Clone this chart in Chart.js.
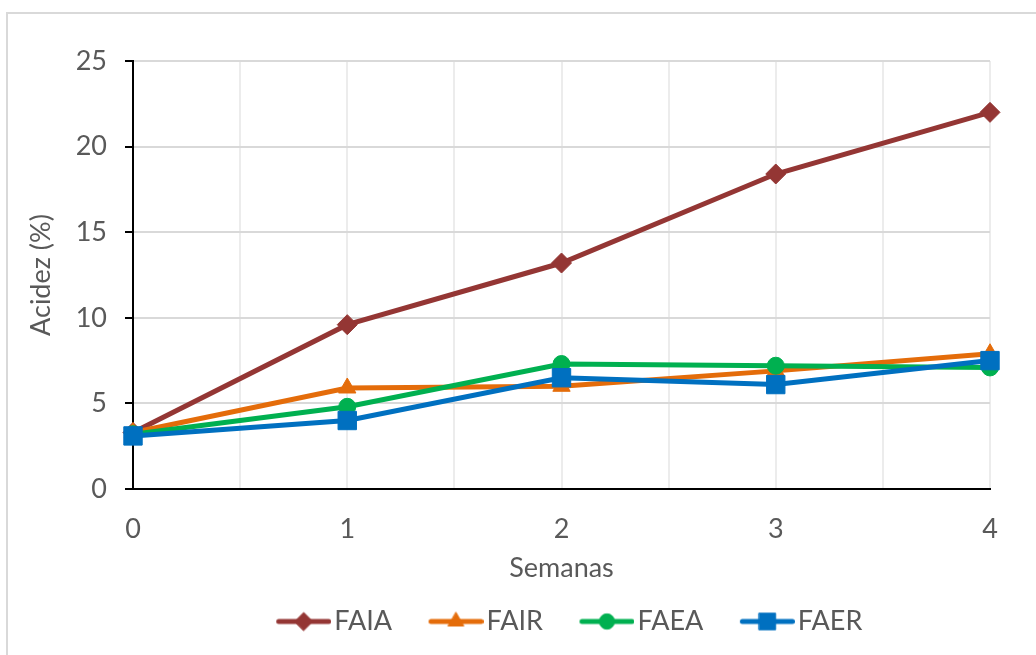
<!DOCTYPE html>
<html>
<head>
<meta charset="utf-8">
<script src="https://cdn.jsdelivr.net/npm/chart.js@4.4.0/dist/chart.umd.min.js"></script>
<style>
  html, body { margin: 0; padding: 0; background: #fff; overflow: hidden; }
  #marco { position: absolute; left: 6px; top: 12px; width: 1040px; height: 660px; border: 2px solid #d9d9d9; box-sizing: border-box; }
  #grafico { position: absolute; left: 0; top: 0; }
</style>
</head>
<body>
<div id="marco"></div>
<canvas id="grafico" width="1036" height="655"></canvas>
<script>
// datos
const semanas = [0, 1, 2, 3, 4];
const faia = [3.3, 9.6, 13.2, 18.4, 22.0];
const fair = [3.3, 5.9, 6.0, 6.9, 7.9];
const faea = [3.2, 4.8, 7.3, 7.2, 7.1];
const faer = [3.1, 4.0, 6.5, 6.1, 7.5];
const nombres = ['FAIA', 'FAIR', 'FAEA', 'FAER'];
const colores = ['#943634', '#E46C0A', '#00B050', '#0070C0'];
const marcadores = ['rectRot', 'triangle', 'circle', 'rect'];
const radios = [10, 10, 8.5, 13];

const gris = '#595959';
const fuente = { family: 'Lato', size: 27 };

// icono de leyenda: linea con marcador (hueco a la izquierda para separar items)
function icono(i) {
  const c = document.createElement('canvas');
  c.width = 92; c.height = 30;
  const g = c.getContext('2d');
  g.strokeStyle = colores[i];
  g.fillStyle = colores[i];
  g.lineWidth = 5;
  g.lineCap = 'round';
  g.beginPath();
  g.moveTo(39.5, 15);
  g.lineTo(89.5, 15);
  g.stroke();
  g.lineWidth = 1;
  Chart.helpers.drawPoint(g, { pointStyle: marcadores[i], radius: radios[i] * 0.9, borderWidth: 1, rotation: 0 }, 64.5, 15);
  return c;
}
const iconos = nombres.map((n, i) => icono(i));

const series = [faia, fair, faea, faer];
const datasets = series.map((s, i) => ({
  label: nombres[i],
  data: semanas.map((x, j) => ({ x: x, y: s[j] })),
  borderColor: colores[i],
  backgroundColor: colores[i],
  borderWidth: 5,
  pointStyle: marcadores[i],
  pointRadius: radios[i],
  pointBorderWidth: 1,
  tension: 0,
  clip: false,
  order: 4 - i
}));

const moverLeyenda = {
  id: 'moverLeyenda',
  afterLayout(chart) {
    const dx = 61;
    chart.legend.left += dx;
    chart.legend.right += dx;
  }
};

new Chart(document.getElementById('grafico'), {
  type: 'line',
  data: { datasets: datasets },
  plugins: [moverLeyenda],
  options: {
    responsive: false,
    animation: false,
    devicePixelRatio: 1,
    layout: { padding: { left: 0, right: 46, top: 61, bottom: 10 } },
    plugins: {
      tooltip: { enabled: false },
      legend: {
        position: 'bottom',
        labels: {
          usePointStyle: true,
          pointStyleWidth: 71,
          padding: 10,
          color: gris,
          font: fuente,
          generateLabels: chart => chart.data.datasets.map((ds, i) => ({
            text: ds.label,
            fillStyle: ds.borderColor,
            strokeStyle: ds.borderColor,
            lineWidth: 0,
            pointStyle: iconos[i],
            hidden: false,
            datasetIndex: i,
            fontColor: gris
          }))
        }
      }
    },
    scales: {
      x: {
        type: 'linear',
        min: 0,
        max: 4,
        afterFit: scale => { scale.height = 109; },
        ticks: {
          stepSize: 0.5,
          autoSkip: false,
          color: gris,
          font: fuente,
          padding: 24,
          callback: v => Number.isInteger(v) ? String(v) : ''
        },
        grid: { color: '#ececec', lineWidth: 2, drawTicks: false },
        border: { color: '#000', width: 2 },
        title: { display: true, text: 'Semanas', color: gris, font: fuente, padding: { top: 0, bottom: 14 } }
      },
      y: {
        min: 0,
        max: 25,
        afterFit: scale => { scale.width = 133; },
        ticks: { stepSize: 5, color: gris, font: fuente, padding: 18 },
        grid: { color: '#d9d9d9', lineWidth: 2, tickLength: 8, tickColor: '#000', tickWidth: 2 },
        border: { color: '#000', width: 2 },
        title: { display: true, text: 'Acidez (%)', color: gris, font: fuente, padding: { top: 25, bottom: 0 } }
      }
    }
  }
});
</script>
</body>
</html>
